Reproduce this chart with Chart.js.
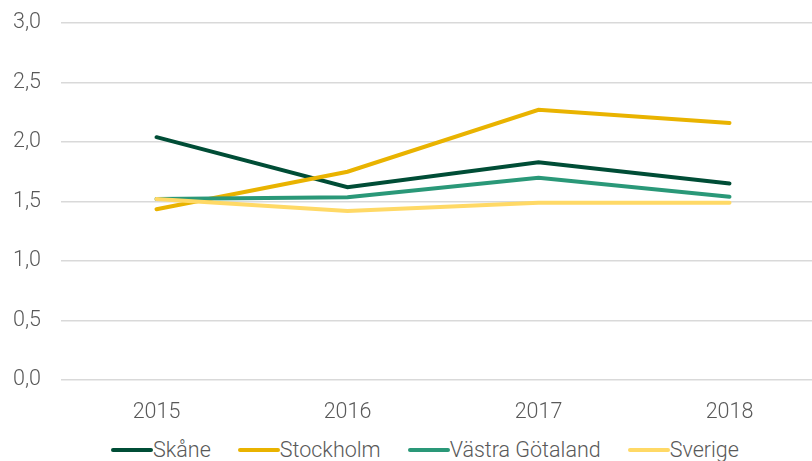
<!DOCTYPE html>
<html>
<head>
    <title>Regioner 2015-2018</title>
    <script src="https://cdn.jsdelivr.net/npm/chart.js"></script>
    <style>
        body { margin: 0; overflow: hidden; background: #fff; }
        .container { position: relative; top: -10px; width: 825px; height: 440px; }
        .legend {
            position: absolute; left: 111px; top: 437px;
            display: flex; font-family: Roboto, "Liberation Sans", sans-serif;
            font-weight: 300; font-size: 21.5px; color: #595959; white-space: nowrap;
        }
        .legend span.item { display: flex; align-items: center; margin-right: 27px; }
        .legend span.line { display: inline-block; width: 42px; height: 4px; border-radius: 2px; }
    </style>
</head>
<body>
    <div class="container">
        <canvas id="chart"></canvas>
    </div>
    <div class="legend" id="legend"></div>
    <script>
        // Data
        const years = ['2015', '2016', '2017', '2018'];
        const skane = [2.04, 1.62, 1.83, 1.65];
        const stockholm = [1.435, 1.75, 2.27, 2.16];
        const vastraGotaland = [1.52, 1.535, 1.70, 1.54];
        const sverige = [1.52, 1.42, 1.49, 1.49];

        const names = ['Skåne', 'Stockholm', 'Västra Götaland', 'Sverige'];
        const colors = ['#004d36', '#e9b300', '#2a9878', '#ffd966'];
        const series = [skane, stockholm, vastraGotaland, sverige];

        const datasets = series.map((d, i) => ({
            label: names[i],
            data: d,
            borderColor: colors[i],
            backgroundColor: colors[i],
            borderWidth: 4,
            pointRadius: 0,
            tension: 0,
            borderCapStyle: 'round',
            order: 4 - i
        }));

        const font = { family: 'Roboto, "Liberation Sans", sans-serif', size: 21.5, weight: '300' };

        new Chart(document.getElementById('chart'), {
            type: 'line',
            data: { labels: years, datasets: datasets },
            options: {
                responsive: true,
                maintainAspectRatio: false,
                animation: false,
                layout: { padding: { top: 2, right: 0, left: 0, bottom: 0 } },
                plugins: { legend: { display: false }, tooltip: { enabled: false } },
                scales: {
                    x: {
                        offset: true,
                        grid: { display: false },
                        border: { display: false },
                        ticks: { font: font, color: '#595959', padding: 12 },
                        afterFit: s => { s.height = 50; }
                    },
                    y: {
                        min: 0,
                        max: 3,
                        grid: { color: '#d9d9d9', lineWidth: 1.5, drawTicks: false },
                        border: { display: false },
                        ticks: {
                            stepSize: 0.5,
                            font: font,
                            color: '#595959',
                            padding: 20,
                            callback: v => v.toFixed(1).replace('.', ',')
                        },
                        afterFit: s => { s.width = 61; }
                    }
                }
            }
        });

        // legend as real text below the chart
        const legend = document.getElementById('legend');
        names.forEach((n, i) => {
            const item = document.createElement('span');
            item.className = 'item';
            item.innerHTML = '<span class="line" style="background:' + colors[i] + '"></span>' + n;
            legend.appendChild(item);
        });
    </script>
</body>
</html>
